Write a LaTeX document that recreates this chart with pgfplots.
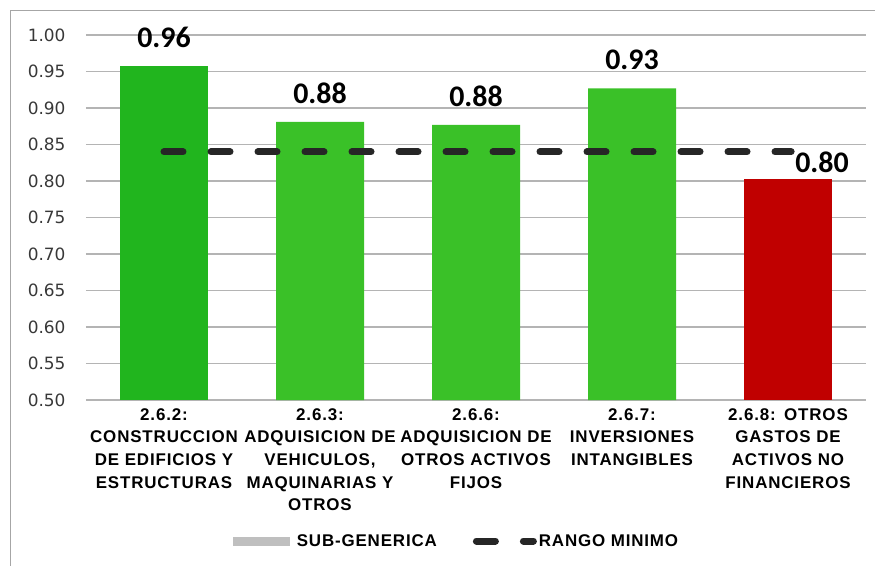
\documentclass[border=0pt]{standalone}
\usepackage{pgfplots}
\pgfplotsset{compat=1.18}
\usepackage{fontspec}
\setmainfont{Liberation Sans}
\newfontfamily\catfont[LetterSpace=5]{Liberation Sans}
\newfontfamily\tickfont{DejaVu Sans}
\newfontfamily\valfont{Carlito}

\definecolor{gdark}{HTML}{21B51E}
\definecolor{glight}{HTML}{3AC128}
\definecolor{bred}{HTML}{C00000}
\definecolor{gridgray}{HTML}{B4B4B4}
\definecolor{framegray}{HTML}{A6A6A6}
\definecolor{linedark}{HTML}{262626}
\definecolor{leggray}{HTML}{BFBFBF}

\pgfplotsset{
  valstyle/.style={
    nodes near coords={\pgfmathprintnumber[fixed,fixed zerofill,precision=2]{\pgfplotspointmeta}},
    every node near coord/.append style={font=\valfont\bfseries\fontsize{30}{30}\selectfont,
      text=black, inner sep=0pt, anchor=south, yshift=18bp},
  },
  subbar/.style={ybar, bar width=88bp, bar shift=0pt, draw=none, forget plot},
}

\begin{document}
\begin{tikzpicture}
\begin{axis}[
  scale only axis, width=780bp, height=365bp,
  at={(0,0)}, anchor=south west,
  xmin=-0.5, xmax=4.5, ymin=0.5, ymax=1.0,
  ytick={0.50,0.55,0.60,0.65,0.70,0.75,0.80,0.85,0.90,0.95,1.00},
  ymajorgrids, grid style={gridgray, line width=1.3bp},
  axis line style={draw=none}, major tick length=0pt,
  /pgf/number format/assume math mode=true,
  yticklabel={\pgfmathprintnumber[fixed,fixed zerofill,precision=2]{\tick}},
  yticklabel style={font=\tickfont\fontsize{17}{20}\selectfont, text=black!78, xshift=-17bp},
  xtick={0,1,2,3,4},
  xticklabels={
    {2.6.2:\\CONSTRUCCION\\DE EDIFICIOS Y\\ESTRUCTURAS},
    {2.6.3:\\ADQUISICION DE\\VEHICULOS,\\MAQUINARIAS Y\\OTROS},
    {2.6.6:\\ADQUISICION DE\\OTROS ACTIVOS\\FIJOS},
    {2.6.7:\\INVERSIONES\\INTANGIBLES},
    {2.6.8: OTROS\\GASTOS DE\\ACTIVOS NO\\FINANCIEROS}},
  xticklabel style={font=\catfont\bfseries\fontsize{17}{22.7}\selectfont, align=center,
    text width=170bp, anchor=north, yshift=-5bp},
  legend columns=2,
  legend cell align=left,
  legend style={at={(axis description cs:0.4724,-0.3863)}, anchor=center, draw=none, fill=none,
    font=\catfont\bfseries\fontsize{17}{20}\selectfont,
    /tikz/every even column/.append style={column sep=34bp}},
  legend image code/.code={\draw[#1] (0bp,0bp) -- (57bp,0bp);},
]
% Sub-generic execution ratios
\addplot[subbar, fill=gdark, valstyle] coordinates {(0,0.957)};
\addplot[subbar, fill=glight, valstyle] coordinates {(1,0.881) (2,0.877) (3,0.927)};
\addplot[subbar, fill=bred, valstyle,
  every node near coord/.append style={xshift=34bp, yshift=-12bp}] coordinates {(4,0.803)};

\addlegendimage{leggray, line width=9bp}
\addlegendentry{SUB-GENERICA}

% Minimum range threshold
\addplot[linedark, line width=7bp, line cap=round, dash pattern=on 19bp off 28bp]
  coordinates {(0,0.84) (4.02,0.84)};
\addlegendentry{RANGO MINIMO}
\end{axis}
\draw[framegray, line width=1.5bp] (-75.5bp,-166bp) -- (-75.5bp,389.5bp) -- (789bp,389.5bp);
\pgfresetboundingbox
\path[use as bounding box] (-86bp,-166bp) rectangle (789bp,400bp);
\end{tikzpicture}
\end{document}
